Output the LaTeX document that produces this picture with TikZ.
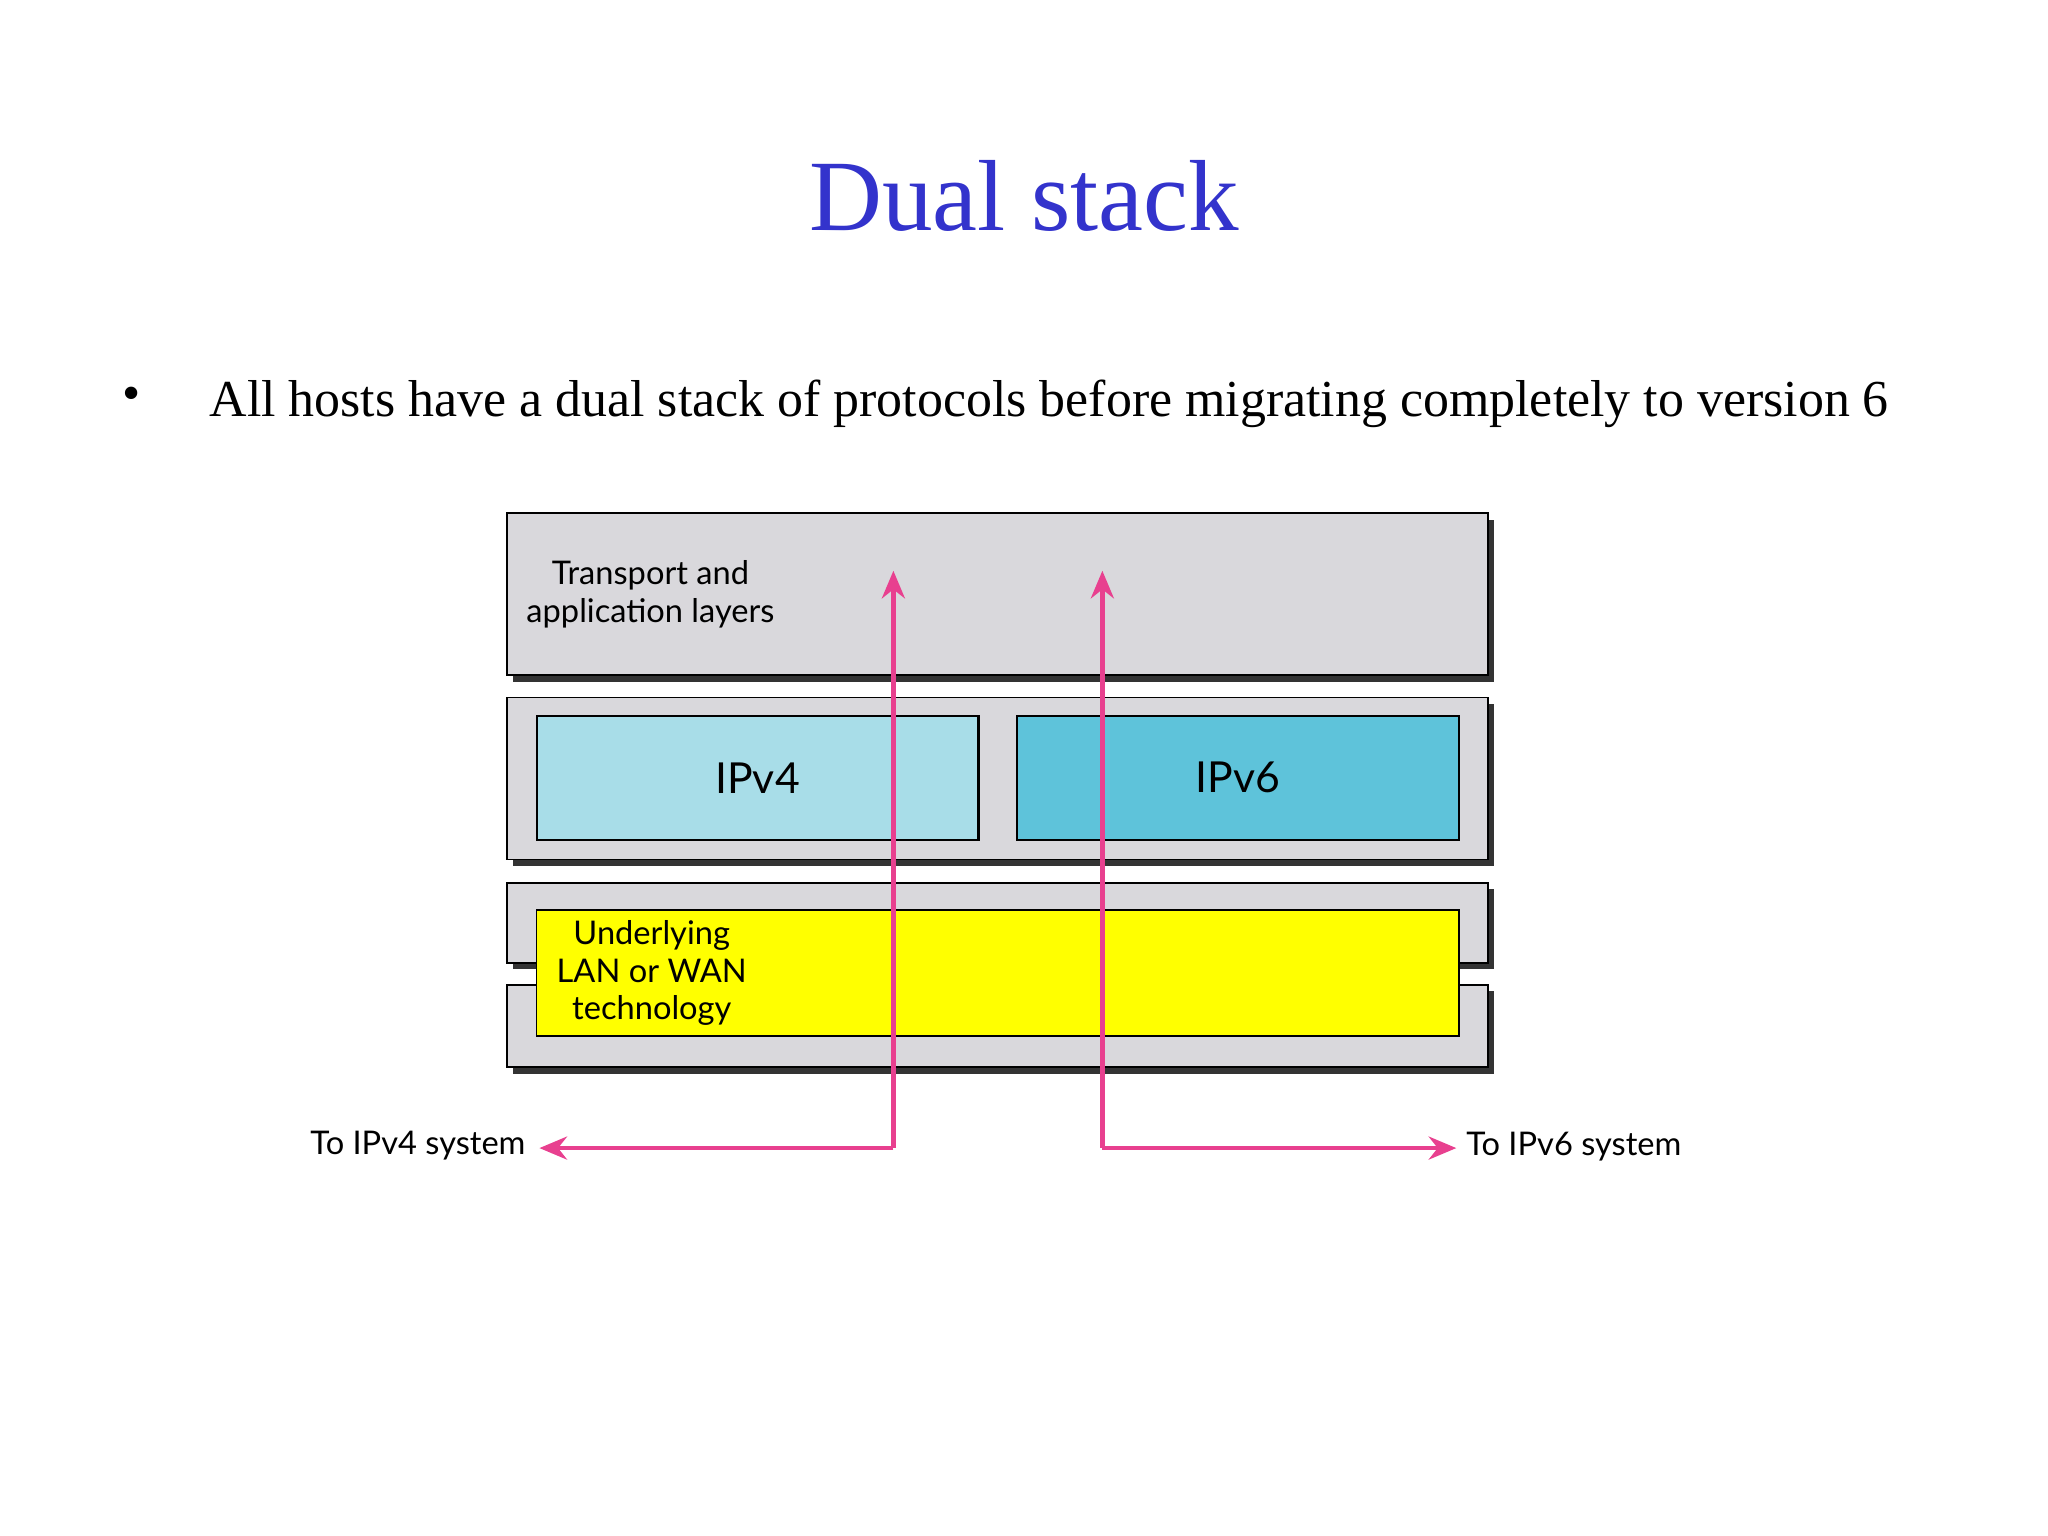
\documentclass[tikz,border=0pt]{standalone}
\usepackage{fontspec}
\setmainfont{Liberation Serif}
\newfontfamily\labelfont{Lato}
\usetikzlibrary{positioning,calc,arrows.meta}
\definecolor{titleblue}{HTML}{3333CC}
\definecolor{layergray}{HTML}{D9D8DC}
\definecolor{vfourblue}{HTML}{A8DDE8}
\definecolor{vsixblue}{HTML}{5EC3DA}
\definecolor{pathpink}{HTML}{E8408F}
\definecolor{lanyellow}{HTML}{FFFF00}
\begin{document}
\begin{tikzpicture}[
    x=0.01cm, y=-0.01cm,
    proto/.style={draw=black, line width=0.5pt, font=\labelfont\fontsize{9.3}{11}\selectfont},
    tag/.style={font=\labelfont\fontsize{7.1}{8.2}\selectfont, align=center},
    flow/.style={pathpink, line width=1pt, -{Stealth[length=6pt,width=5pt]}},
    >=stealth
]
\useasboundingbox (0,0) rectangle (1568,1176);

\node[titleblue, font=\fontsize{22}{26}\selectfont] (title) at (784,150) {Dual stack};
\node[font=\fontsize{11.3}{14}\selectfont] (bullet) at (101,305) {\textbullet};
\node[font=\fontsize{11.3}{14}\selectfont, anchor=west] (point) at (148,309)
  {All hosts have a dual stack of protocols before migrating completely to version 6};

% layers (shadow first)
\foreach \ya/\yb in {393/517, 534/658, 676/737, 754/817}
  \fill[black!80] (393,\ya+5) rectangle (1144,\yb+5);
\draw[fill=layergray] (388,393) rectangle (1139,517);
\draw[fill=layergray] (388,534) rectangle (1139,658);
\draw[fill=layergray] (388,676) rectangle (1139,737);
\draw[fill=layergray] (388,754) rectangle (1139,817);

\node[proto, fill=vfourblue, minimum width=3.38cm, minimum height=0.95cm] (ipv4) at (580,595.5) {IPv4};
\node[proto, fill=vsixblue, minimum width=3.38cm, minimum height=0.95cm] (ipv6) at (948,595.5) {IPv6};
\node[draw=black, fill=lanyellow, minimum width=7.06cm, minimum height=0.96cm] (lan) at (764,745) {};

\node[tag] (transport) at (498,455) {Transport and\\application layers};
\node[tag] (underlying) at (499,745) {Underlying\\LAN or WAN\\technology};
\node[tag] (to4) at (320,877) {To IPv4 system};
\node[tag] (to6) at (1205,878) {To IPv6 system};

% paths through the stack
\coordinate (top4) at (684,437);
\coordinate (bend4) at (684,879);
\coordinate (end4) at (413,879);
\coordinate (top6) at (844,437);
\coordinate (bend6) at (844,879);
\coordinate (end6) at (1115,879);
\draw[flow] (bend4) -- (top4);
\draw[flow] (bend4) -- (end4);
\draw[flow] (bend6) -- (top6);
\draw[flow] (bend6) -- (end6);
\end{tikzpicture}
\end{document}
